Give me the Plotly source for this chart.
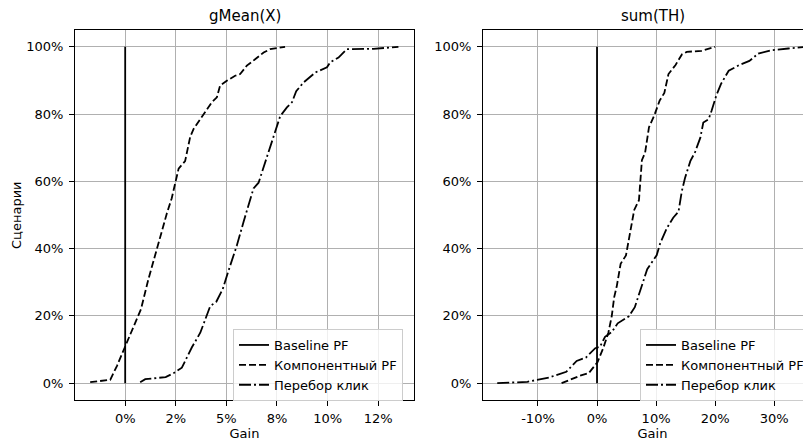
import plotly.graph_objects as go

# ---------------- data (percent units) ----------------
baseline_x = [0, 0]
baseline_y = [0, 100]

# gMean(X)
comp_x_g = [-1.73, -0.74, -0.41, 0.0, 0.40, 0.78, 1.15, 1.56, 1.73, 2.06, 2.30, 2.47, 2.64, 2.96,
            3.21, 3.38, 3.87, 4.28, 4.53, 4.69, 5.02, 5.43, 5.68, 6.01, 6.42, 6.84, 7.16, 7.9]
comp_y_g = [0.3, 1.0, 5.1, 10.8, 16.5, 22.0, 31.0, 40.0, 43.5, 50.5, 55.0, 59.4, 63.8, 66.0,
            73.2, 75.6, 80.1, 83.5, 85.0, 88.5, 89.9, 91.4, 91.9, 94.4, 96.3, 98.3, 99.3, 100]

click_x_g = [0.74, 0.99, 2.0, 2.40, 2.80, 3.29, 3.71, 4.20, 4.50, 4.82, 5.08, 5.35, 5.52, 5.85,
             6.18, 6.34, 6.59, 7.0, 7.49, 7.66, 7.99, 8.24, 8.45, 8.81, 9.4, 9.97, 10.13, 10.54,
             10.95, 12.27, 13.5]
click_y_g = [0.3, 1.2, 1.8, 3.0, 4.6, 10.6, 15.0, 22.9, 24.2, 28.0, 33.0, 37.7, 41.0, 48.0,
             54.4, 57.9, 59.6, 67.2, 75.6, 79.4, 82.0, 83.5, 86.8, 89.4, 92.4, 93.9, 95.4, 96.8,
             99.3, 99.4, 100]

# sum(TH)
comp_x_t = [-6.0, -4.0, -2.9, -1.4, 0.1, 1.07, 1.92, 2.49, 2.9, 3.34, 4.0, 4.9, 5.4, 5.88, 6.3,
            7.1, 7.35, 7.6, 8.14, 8.8, 9.7, 10.6, 11.4, 12.1, 13.3, 14.4, 15.2, 17.7, 20.0]
comp_y_t = [0, 1.5, 2.2, 3.0, 6.3, 10.5, 15.0, 19.9, 25.5, 28.8, 35.5, 38.0, 42.8, 46.5, 51.5,
            54.4, 60.4, 66.3, 68.5, 76.1, 79.6, 84.0, 86.3, 91.9, 94.6, 97.8, 98.5, 98.8, 100]

click_x_t = [-16.9, -11.8, -8.1, -5.2, -3.45, -1.9, -0.3, 0.5, 1.36, 2.49, 3.5, 5.4, 6.4, 7.57,
             8.5, 10.1, 10.7, 11.8, 12.9, 13.8, 14.35, 14.9, 15.8, 16.6, 17.5, 18.0, 18.9, 19.4,
             20.2, 21.0, 22.3, 24.0, 25.8, 27.3, 29.6, 32.4, 35.5]
click_y_t = [0, 0.4, 1.7, 3.4, 6.6, 7.6, 10.4, 10.8, 13.8, 15.2, 17.8, 19.9, 22.6, 28.8,
             33.9, 38.0, 41.6, 46.0, 49.2, 51.0, 57.0, 61.0, 66.0, 68.7, 73.0, 77.5, 78.5, 81.0,
             85.5, 89.0, 92.9, 94.5, 95.8, 98.0, 99.0, 99.5, 100]

names = ["Baseline PF", "Компонентный PF", "Перебор клик"]
titles = ["gMean(X)", "sum(TH)"]

xticks_g = [0, 2.5, 5, 7.5, 10, 12.5]
xtick_text_g = ["0%", "2%", "5%", "8%", "10%", "12%"]
xticks_t = [-10, 0, 10, 20, 30]
xtick_text_t = ["-10%", "0%", "10%", "20%", "30%"]
yticks = [0, 20, 40, 60, 80, 100]
ytick_text = ["0%", "20%", "40%", "60%", "80%", "100%"]

# ---------------- geometry (window pixels; page body has an 8px margin) ----------------
OFF = 8
W, H = 835, 435            # figure size (right part runs past the window edge, like the reference)
AX_T, AX_B = 30 - OFF, 400 - OFF
L1, R1 = 75 - OFF, 414 - OFF
L2, R2 = 483 - OFF, 822 - OFF
PH = AX_B - AX_T

def px(v):
    return v / W

def py(v):
    return (AX_B - v) / PH

FONT = "DejaVu Sans"
LW = 1.8
DASH = "7px,3px"
DASHDOT = "12px,3px,2px,3px"

fig = go.Figure()

def add_set(xa, ya, legend, bx, by, cx, cy, kx, ky):
    fig.add_trace(go.Scatter(x=bx, y=by, mode="lines", name=names[0],
                             line=dict(color="black", width=LW, dash="solid"),
                             xaxis=xa, yaxis=ya, legend=legend))
    fig.add_trace(go.Scatter(x=cx, y=cy, mode="lines", name=names[1],
                             line=dict(color="black", width=LW, dash=DASH),
                             xaxis=xa, yaxis=ya, legend=legend))
    fig.add_trace(go.Scatter(x=kx, y=ky, mode="lines", name=names[2],
                             line=dict(color="black", width=LW, dash=DASHDOT),
                             xaxis=xa, yaxis=ya, legend=legend))

add_set("x", "y", "legend", baseline_x, baseline_y, comp_x_g, comp_y_g, click_x_g, click_y_g)
add_set("x2", "y2", "legend2", baseline_x, baseline_y, comp_x_t, comp_y_t, click_x_t, click_y_t)

TICKSIZE = 13
axis_common = dict(
    showgrid=True, gridcolor="#b0b0b0", gridwidth=1, zeroline=False,
    showline=True, linecolor="black", linewidth=1,
    ticks="outside", ticklen=5, tickwidth=1, tickcolor="black",
    tickfont=dict(family=FONT, size=TICKSIZE, color="black"),
)
x_extra = dict(ticklabelstandoff=1,
               title=dict(text="Gain", font=dict(family=FONT, size=TICKSIZE), standoff=2))
y_extra = dict(ticklabelstandoff=3)

legend_style = dict(xanchor="left", yanchor="top",
                    bgcolor="rgba(255,255,255,0.8)", bordercolor="#cccccc", borderwidth=1,
                    font=dict(family=FONT, size=13, color="black"), tracegroupgap=0)

fig.update_layout(
    width=W, height=H,
    margin=dict(l=0, r=0, t=AX_T, b=H - AX_B, autoexpand=False),
    paper_bgcolor="white", plot_bgcolor="white",
    font=dict(family=FONT, size=TICKSIZE, color="black"),
    xaxis=dict(domain=[px(L1), px(R1)], range=[-2.48, 14.27], tickmode="array",
               tickvals=xticks_g, ticktext=xtick_text_g, mirror=True, anchor="y",
               **axis_common, **x_extra),
    yaxis=dict(domain=[0, 1], range=[-5, 105], tickmode="array",
               tickvals=yticks, ticktext=ytick_text, mirror=True, anchor="x",
               **axis_common, **y_extra),
    xaxis2=dict(domain=[px(L2), px(R2)], range=[-19.31, 38.1], tickmode="array",
                tickvals=xticks_t, ticktext=xtick_text_t, mirror=True, anchor="y2",
                **axis_common, **x_extra),
    yaxis2=dict(domain=[0, 1], range=[-5, 105], tickmode="array",
                tickvals=yticks, ticktext=ytick_text, mirror=True, anchor="x2",
                **axis_common, **y_extra),
    legend=dict(x=px(233 - OFF), y=py(329 - OFF), **legend_style),
    legend2=dict(x=px(640 - OFF), y=py(329 - OFF), **legend_style),
    showlegend=True,
)

annotations = [
    dict(text=titles[0], x=px((L1 + R1) / 2), y=1, xref="paper", yref="paper",
         xanchor="center", yanchor="bottom", yshift=3, showarrow=False,
         font=dict(family=FONT, size=15, color="black")),
    dict(text=titles[1], x=px((L2 + R2) / 2), y=1, xref="paper", yref="paper",
         xanchor="center", yanchor="bottom", yshift=3, showarrow=False,
         font=dict(family=FONT, size=15, color="black")),
    dict(text="Сценарии", x=px(16 - OFF), y=0.5, xref="paper", yref="paper",
         xanchor="center", yanchor="middle", textangle=-90, showarrow=False,
         font=dict(family=FONT, size=TICKSIZE, color="black")),
]
fig.update_layout(annotations=annotations)

fig.write_html("out.html")
